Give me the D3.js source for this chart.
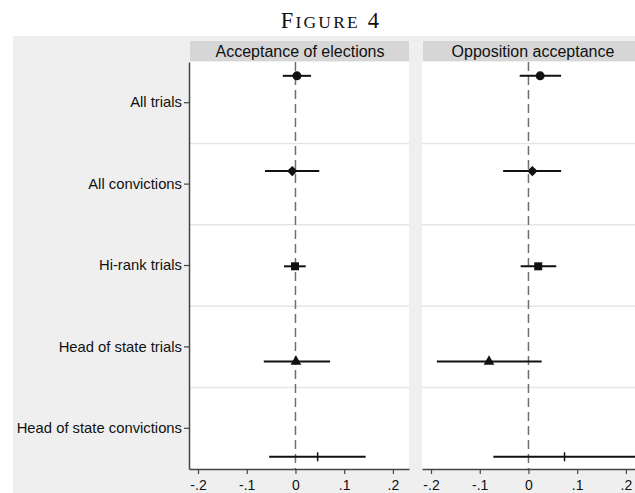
<!DOCTYPE html>
<html><head><meta charset="utf-8">
<script src="https://cdn.jsdelivr.net/npm/d3@7"></script>
<style>body{margin:0;background:#fff}svg{display:block}</style>
</head><body>
<script>
// Coefficient plot: two panels, five treatment categories, point estimate + 95% CI
const categories = ["All trials", "All convictions", "Hi-rank trials", "Head of state trials", "Head of state convictions"];
const markerShapes = ["circle", "diamond", "square", "triangle", "tick"];
const panelTitles = ["Acceptance of elections", "Opposition acceptance"];
const electionsEst = [0.003, -0.0066, -0.001, 0.001, 0.0455];
const electionsLo  = [-0.026, -0.0626, -0.0236, -0.065, -0.054];
const electionsHi  = [0.032, 0.0488, 0.021, 0.071, 0.144];
const oppositionEst = [0.024, 0.008, 0.020, -0.081, 0.074];
const oppositionLo  = [-0.018, -0.052, -0.016, -0.188, -0.072];
const oppositionHi  = [0.067, 0.067, 0.057, 0.027, 0.26];
const xTicks = [-0.2, -0.1, 0, 0.1, 0.2];
const xTickLabels = ["-.2", "-.1", "0", ".1", ".2"];

const W = 635, H = 493;
const plotTop = 62, plotBottom = 469;
const panelW = 220;
const panelX = [189, 422];
const font = "'Liberation Sans', Arial, Helvetica, sans-serif";

const svg = d3.select("body").append("svg").attr("width", W).attr("height", H);

// figure title
const title = svg.append("text")
  .attr("x", 331).attr("y", 28)
  .attr("text-anchor", "middle")
  .attr("font-family", "'Liberation Serif', 'Times New Roman', serif")
  .attr("fill", "#111")
  .attr("letter-spacing", 2.2);
title.append("tspan").attr("font-size", 22.5).text("F");
title.append("tspan").attr("font-size", 17.5).text("IGURE");
title.append("tspan").attr("font-size", 22.5).text(" 4");

// graph region background
svg.append("rect").attr("x", 13).attr("y", 36).attr("width", W - 13).attr("height", H - 36)
  .attr("fill", "#efefef");

// category scales: bands for labels / separators, points for the estimates
const yBand = d3.scaleBand().domain(categories).range([plotTop, plotBottom]);
const yPt = d3.scalePoint().domain(categories)
  .range([plotTop + 0.17 * yBand.bandwidth(), plotBottom - 0.15 * yBand.bandwidth()]);

const x = d3.scaleLinear().domain([-0.2185, 0.233]).range([0, panelW]);

const panelData = [
  categories.map((c, i) => ({cat: c, est: electionsEst[i], lo: electionsLo[i], hi: electionsHi[i], shape: markerShapes[i]})),
  categories.map((c, i) => ({cat: c, est: oppositionEst[i], lo: oppositionLo[i], hi: oppositionHi[i], shape: markerShapes[i]}))
];

const ink = "#111";

panelData.forEach((rows, p) => {
  const g = svg.append("g").attr("transform", `translate(${panelX[p]},0)`);
  const clipId = "clip" + p;
  g.append("clipPath").attr("id", clipId).append("rect")
    .attr("x", 0).attr("y", plotTop).attr("width", panelW).attr("height", plotBottom - plotTop);

  // strip header
  g.append("rect").attr("x", 1).attr("y", 41).attr("width", panelW - 1).attr("height", 20)
    .attr("fill", "#d6d6d6");
  g.append("text").attr("x", panelW / 2 + 1).attr("y", 57)
    .attr("text-anchor", "middle").attr("font-family", font).attr("font-size", 16)
    .attr("fill", "#111").text(panelTitles[p]);

  // plot area
  g.append("rect").attr("x", 0).attr("y", plotTop).attr("width", panelW).attr("height", plotBottom - plotTop)
    .attr("fill", "#fff");

  // separators between categories
  g.selectAll("line.sep").data(categories.slice(1)).enter().append("line")
    .attr("x1", 0).attr("x2", panelW)
    .attr("y1", d => yBand(d)).attr("y2", d => yBand(d))
    .attr("stroke", "#e6e6e6").attr("stroke-width", 1.5);

  // reference line at zero
  g.append("line").attr("x1", x(0)).attr("x2", x(0)).attr("y1", plotTop).attr("y2", plotBottom)
    .attr("stroke", "#6f6f6f").attr("stroke-width", 1.5).attr("stroke-dasharray", "9,5");

  const marks = g.append("g").attr("clip-path", `url(#${clipId})`);
  // confidence intervals
  marks.selectAll("line.ci").data(rows).enter().append("line")
    .attr("x1", d => x(d.lo)).attr("x2", d => x(d.hi))
    .attr("y1", d => yPt(d.cat)).attr("y2", d => yPt(d.cat))
    .attr("stroke", ink).attr("stroke-width", 2);

  // point estimates
  const sym = {
    circle: {gen: d3.symbol(d3.symbolCircle, 64), rot: 0},
    diamond: {gen: d3.symbol(d3.symbolSquare, 54), rot: 45},
    square: {gen: d3.symbol(d3.symbolSquare, 64), rot: 0},
    triangle: {gen: d3.symbol(d3.symbolTriangle, 50), rot: 0}
  };
  rows.forEach(d => {
    const cx = x(d.est), cy = yPt(d.cat);
    if (d.shape === "tick") {
      marks.append("line").attr("x1", cx).attr("x2", cx).attr("y1", cy - 4.5).attr("y2", cy + 4.5)
        .attr("stroke", ink).attr("stroke-width", 1.5);
    } else {
      const s = sym[d.shape];
      marks.append("path").attr("d", s.gen())
        .attr("transform", `translate(${cx},${cy}) rotate(${s.rot})`).attr("fill", ink);
    }
  });

  // x axis
  const xa = g.append("g").attr("transform", `translate(0,${plotBottom})`)
    .call(d3.axisBottom(x).tickValues(xTicks).tickSize(5).tickSizeOuter(0)
      .tickFormat((d, i) => xTickLabels[i]));
  xa.select(".domain").attr("stroke", "#444").attr("stroke-width", 1.5);
  xa.selectAll(".tick line").attr("stroke", "#444").attr("stroke-width", 1.2);
  xa.selectAll(".tick text").attr("font-family", font).attr("font-size", 14)
    .attr("fill", "#111").attr("dy", null).attr("y", 21);
});

// category axis on the left
const ya = svg.append("g").attr("transform", `translate(${panelX[0]},0)`)
  .call(d3.axisLeft(yBand).tickSize(5).tickSizeOuter(0));
ya.select(".domain").attr("stroke", "#444").attr("stroke-width", 1.5);
ya.selectAll(".tick line").attr("stroke", "#444").attr("stroke-width", 1.2);
ya.selectAll(".tick text").attr("font-family", font).attr("font-size", 14.8)
  .attr("fill", "#111").attr("x", -7);
</script>
</body></html>
